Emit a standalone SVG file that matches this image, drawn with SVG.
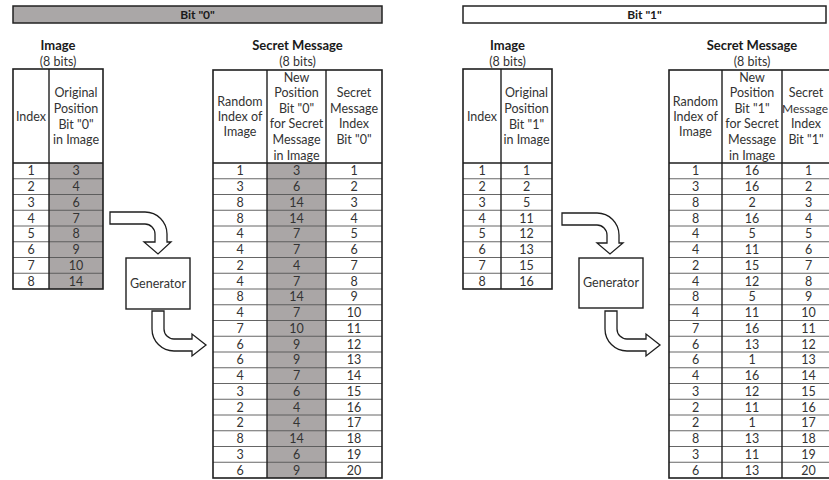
<svg xmlns="http://www.w3.org/2000/svg" width="829" height="480" viewBox="0 0 829 480">
<style>
text{font-family:Lato,"Liberation Sans",sans-serif;fill:#333;text-anchor:middle}
.t{font-size:13px;font-weight:bold;fill:#1a1a1a}
.s{font-size:12.5px}
.h{font-size:12.5px}
.c{font-size:12.5px;dominant-baseline:central}
.bar{stroke:#222;stroke-width:1.5}
.outer{fill:none;stroke:#1e1e1e;stroke-width:1.6}
.col{stroke:#1e1e1e;stroke-width:1.4}
.row{stroke:#555;stroke-width:0.9}
.shade{fill:#aaa6a6}
.gen{fill:#fff;stroke:#1e1e1e;stroke-width:1.4}
.arrow{fill:#fff;stroke:#1e1e1e;stroke-width:1.3;stroke-linejoin:miter}
</style>

<g id="bar0">
<rect class="bar" x="13" y="6" width="369" height="17" fill="#aaa7a7"/>
<text class="t" x="197.5" y="19" style="font-size:12px">Bit "0"</text>
</g>
<g id="bar1">
<rect class="bar" x="463" y="6" width="363" height="17" fill="#fff"/>
<text class="t" x="644.5" y="19" style="font-size:12px">Bit "1"</text>
</g>

<!-- Left image table -->
<g id="image0">
<text class="t" x="58" y="50">Image</text>
<text class="s" x="58" y="66">(8 bits)</text>
<rect class="shade" x="49" y="163" width="54" height="126"/>
<g class="row">
<line x1="13" y1="178.75" x2="103" y2="178.75"/><line x1="13" y1="194.5" x2="103" y2="194.5"/>
<line x1="13" y1="210.25" x2="103" y2="210.25"/><line x1="13" y1="226" x2="103" y2="226"/>
<line x1="13" y1="241.75" x2="103" y2="241.75"/><line x1="13" y1="257.5" x2="103" y2="257.5"/>
<line x1="13" y1="273.25" x2="103" y2="273.25"/>
</g>
<line class="col" x1="49" y1="69" x2="49" y2="289"/>
<line class="col" x1="13" y1="163" x2="103" y2="163"/>
<rect class="outer" x="13" y="69" width="90" height="220"/>
<text class="h" x="31" y="121">Index</text>
<text class="h" x="76" y="97">Original</text>
<text class="h" x="76" y="113">Position</text>
<text class="h" x="76" y="128.5">Bit "0"</text>
<text class="h" x="76" y="144">in Image</text>
<g class="c">
<text x="31" y="170.9">1</text><text x="76" y="170.9">3</text>
<text x="31" y="186.6">2</text><text x="76" y="186.6">4</text>
<text x="31" y="202.4">3</text><text x="76" y="202.4">6</text>
<text x="31" y="218.1">4</text><text x="76" y="218.1">7</text>
<text x="31" y="233.9">5</text><text x="76" y="233.9">8</text>
<text x="31" y="249.6">6</text><text x="76" y="249.6">9</text>
<text x="31" y="265.4">7</text><text x="76" y="265.4">10</text>
<text x="31" y="281.1">8</text><text x="76" y="281.1">14</text>
</g>
</g>

<!-- Left secret table -->
<g id="secret0">
<text class="t" x="297.5" y="50">Secret Message</text>
<text class="s" x="297.5" y="66">(8 bits)</text>
<rect class="shade" x="267" y="163" width="59" height="315"/>
<g class="row">
<line x1="213" y1="178.75" x2="382" y2="178.75"/><line x1="213" y1="194.5" x2="382" y2="194.5"/>
<line x1="213" y1="210.25" x2="382" y2="210.25"/><line x1="213" y1="226" x2="382" y2="226"/>
<line x1="213" y1="241.75" x2="382" y2="241.75"/><line x1="213" y1="257.5" x2="382" y2="257.5"/>
<line x1="213" y1="273.25" x2="382" y2="273.25"/><line x1="213" y1="289" x2="382" y2="289"/>
<line x1="213" y1="304.75" x2="382" y2="304.75"/><line x1="213" y1="320.5" x2="382" y2="320.5"/>
<line x1="213" y1="336.25" x2="382" y2="336.25"/><line x1="213" y1="352" x2="382" y2="352"/>
<line x1="213" y1="367.75" x2="382" y2="367.75"/><line x1="213" y1="383.5" x2="382" y2="383.5"/>
<line x1="213" y1="399.25" x2="382" y2="399.25"/><line x1="213" y1="415" x2="382" y2="415"/>
<line x1="213" y1="430.75" x2="382" y2="430.75"/><line x1="213" y1="446.5" x2="382" y2="446.5"/>
<line x1="213" y1="462.25" x2="382" y2="462.25"/>
</g>
<line class="col" x1="267" y1="70" x2="267" y2="478"/>
<line class="col" x1="326" y1="70" x2="326" y2="478"/>
<line class="col" x1="213" y1="163" x2="382" y2="163"/>
<rect class="outer" x="213" y="70" width="169" height="408"/>
<text class="h" x="240" y="106">Random</text>
<text class="h" x="240" y="121">Index of</text>
<text class="h" x="240" y="136">Image</text>
<text class="h" x="296.5" y="82">New</text>
<text class="h" x="296.5" y="97">Position</text>
<text class="h" x="296.5" y="112.5">Bit "0"</text>
<text class="h" x="296.5" y="128">for Secret</text>
<text class="h" x="296.5" y="144">Message</text>
<text class="h" x="296.5" y="160">in Image</text>
<text class="h" x="354" y="97">Secret</text>
<text class="h" x="354" y="113">Message</text>
<text class="h" x="354" y="128">Index</text>
<text class="h" x="354" y="144">Bit "0"</text>
<g class="c">
<text x="240" y="170.9">1</text><text x="296.5" y="170.9">3</text><text x="354" y="170.9">1</text>
<text x="240" y="186.6">3</text><text x="296.5" y="186.6">6</text><text x="354" y="186.6">2</text>
<text x="240" y="202.4">8</text><text x="296.5" y="202.4">14</text><text x="354" y="202.4">3</text>
<text x="240" y="218.1">8</text><text x="296.5" y="218.1">14</text><text x="354" y="218.1">4</text>
<text x="240" y="233.9">4</text><text x="296.5" y="233.9">7</text><text x="354" y="233.9">5</text>
<text x="240" y="249.6">4</text><text x="296.5" y="249.6">7</text><text x="354" y="249.6">6</text>
<text x="240" y="265.4">2</text><text x="296.5" y="265.4">4</text><text x="354" y="265.4">7</text>
<text x="240" y="281.1">4</text><text x="296.5" y="281.1">7</text><text x="354" y="281.1">8</text>
<text x="240" y="296.9">8</text><text x="296.5" y="296.9">14</text><text x="354" y="296.9">9</text>
<text x="240" y="312.6">4</text><text x="296.5" y="312.6">7</text><text x="354" y="312.6">10</text>
<text x="240" y="328.4">7</text><text x="296.5" y="328.4">10</text><text x="354" y="328.4">11</text>
<text x="240" y="344.1">6</text><text x="296.5" y="344.1">9</text><text x="354" y="344.1">12</text>
<text x="240" y="359.9">6</text><text x="296.5" y="359.9">9</text><text x="354" y="359.9">13</text>
<text x="240" y="375.6">4</text><text x="296.5" y="375.6">7</text><text x="354" y="375.6">14</text>
<text x="240" y="391.4">3</text><text x="296.5" y="391.4">6</text><text x="354" y="391.4">15</text>
<text x="240" y="407.1">2</text><text x="296.5" y="407.1">4</text><text x="354" y="407.1">16</text>
<text x="240" y="422.9">2</text><text x="296.5" y="422.9">4</text><text x="354" y="422.9">17</text>
<text x="240" y="438.6">8</text><text x="296.5" y="438.6">14</text><text x="354" y="438.6">18</text>
<text x="240" y="454.4">3</text><text x="296.5" y="454.4">6</text><text x="354" y="454.4">19</text>
<text x="240" y="470.1">6</text><text x="296.5" y="470.1">9</text><text x="354" y="470.1">20</text>
</g>
</g>

<g id="generator0">
<rect class="gen" x="126" y="258" width="64" height="51"/>
<text class="h" x="158" y="287.5">Generator</text>
</g>

<!-- Right image table -->
<g id="image1">
<text class="t" x="507.5" y="50">Image</text>
<text class="s" x="507.5" y="66">(8 bits)</text>
<g class="row">
<line x1="463" y1="178.75" x2="552" y2="178.75"/><line x1="463" y1="194.5" x2="552" y2="194.5"/>
<line x1="463" y1="210.25" x2="552" y2="210.25"/><line x1="463" y1="226" x2="552" y2="226"/>
<line x1="463" y1="241.75" x2="552" y2="241.75"/><line x1="463" y1="257.5" x2="552" y2="257.5"/>
<line x1="463" y1="273.25" x2="552" y2="273.25"/>
</g>
<line class="col" x1="501" y1="69" x2="501" y2="289"/>
<line class="col" x1="463" y1="163" x2="552" y2="163"/>
<rect class="outer" x="463" y="69" width="89" height="220"/>
<text class="h" x="482" y="121">Index</text>
<text class="h" x="526.5" y="97">Original</text>
<text class="h" x="526.5" y="113">Position</text>
<text class="h" x="526.5" y="128.5">Bit "1"</text>
<text class="h" x="526.5" y="144">in Image</text>
<g class="c">
<text x="482" y="170.9">1</text><text x="526.5" y="170.9">1</text>
<text x="482" y="186.6">2</text><text x="526.5" y="186.6">2</text>
<text x="482" y="202.4">3</text><text x="526.5" y="202.4">5</text>
<text x="482" y="218.1">4</text><text x="526.5" y="218.1">11</text>
<text x="482" y="233.9">5</text><text x="526.5" y="233.9">12</text>
<text x="482" y="249.6">6</text><text x="526.5" y="249.6">13</text>
<text x="482" y="265.4">7</text><text x="526.5" y="265.4">15</text>
<text x="482" y="281.1">8</text><text x="526.5" y="281.1">16</text>
</g>
</g>

<!-- Right secret table -->
<g id="secret1">
<text class="t" x="752" y="50">Secret Message</text>
<text class="s" x="752" y="66">(8 bits)</text>
<g class="row">
<line x1="669" y1="178.75" x2="835" y2="178.75"/><line x1="669" y1="194.5" x2="835" y2="194.5"/>
<line x1="669" y1="210.25" x2="835" y2="210.25"/><line x1="669" y1="226" x2="835" y2="226"/>
<line x1="669" y1="241.75" x2="835" y2="241.75"/><line x1="669" y1="257.5" x2="835" y2="257.5"/>
<line x1="669" y1="273.25" x2="835" y2="273.25"/><line x1="669" y1="289" x2="835" y2="289"/>
<line x1="669" y1="304.75" x2="835" y2="304.75"/><line x1="669" y1="320.5" x2="835" y2="320.5"/>
<line x1="669" y1="336.25" x2="835" y2="336.25"/><line x1="669" y1="352" x2="835" y2="352"/>
<line x1="669" y1="367.75" x2="835" y2="367.75"/><line x1="669" y1="383.5" x2="835" y2="383.5"/>
<line x1="669" y1="399.25" x2="835" y2="399.25"/><line x1="669" y1="415" x2="835" y2="415"/>
<line x1="669" y1="430.75" x2="835" y2="430.75"/><line x1="669" y1="446.5" x2="835" y2="446.5"/>
<line x1="669" y1="462.25" x2="835" y2="462.25"/>
</g>
<line class="col" x1="722" y1="70" x2="722" y2="478"/>
<line class="col" x1="782" y1="70" x2="782" y2="478"/>
<line class="col" x1="669" y1="163" x2="835" y2="163"/>
<rect class="outer" x="669" y="70" width="166" height="408"/>
<text class="h" x="695.5" y="106">Random</text>
<text class="h" x="695.5" y="121">Index of</text>
<text class="h" x="695.5" y="136">Image</text>
<text class="h" x="752" y="82">New</text>
<text class="h" x="752" y="97">Position</text>
<text class="h" x="752" y="112.5">Bit "1"</text>
<text class="h" x="752" y="128">for Secret</text>
<text class="h" x="752" y="144">Message</text>
<text class="h" x="752" y="160">in Image</text>
<text class="h" x="806" y="97">Secret</text>
<text class="h" x="805" y="113" style="font-size:12px">Message</text>
<text class="h" x="806" y="128">Index</text>
<text class="h" x="806" y="144">Bit "1"</text>
<g class="c">
<text x="695.5" y="170.9">1</text><text x="752" y="170.9">16</text><text x="808.5" y="170.9">1</text>
<text x="695.5" y="186.6">3</text><text x="752" y="186.6">16</text><text x="808.5" y="186.6">2</text>
<text x="695.5" y="202.4">8</text><text x="752" y="202.4">2</text><text x="808.5" y="202.4">3</text>
<text x="695.5" y="218.1">8</text><text x="752" y="218.1">16</text><text x="808.5" y="218.1">4</text>
<text x="695.5" y="233.9">4</text><text x="752" y="233.9">5</text><text x="808.5" y="233.9">5</text>
<text x="695.5" y="249.6">4</text><text x="752" y="249.6">11</text><text x="808.5" y="249.6">6</text>
<text x="695.5" y="265.4">2</text><text x="752" y="265.4">15</text><text x="808.5" y="265.4">7</text>
<text x="695.5" y="281.1">4</text><text x="752" y="281.1">12</text><text x="808.5" y="281.1">8</text>
<text x="695.5" y="296.9">8</text><text x="752" y="296.9">5</text><text x="808.5" y="296.9">9</text>
<text x="695.5" y="312.6">4</text><text x="752" y="312.6">11</text><text x="808.5" y="312.6">10</text>
<text x="695.5" y="328.4">7</text><text x="752" y="328.4">16</text><text x="808.5" y="328.4">11</text>
<text x="695.5" y="344.1">6</text><text x="752" y="344.1">13</text><text x="808.5" y="344.1">12</text>
<text x="695.5" y="359.9">6</text><text x="752" y="359.9">1</text><text x="808.5" y="359.9">13</text>
<text x="695.5" y="375.6">4</text><text x="752" y="375.6">16</text><text x="808.5" y="375.6">14</text>
<text x="695.5" y="391.4">3</text><text x="752" y="391.4">12</text><text x="808.5" y="391.4">15</text>
<text x="695.5" y="407.1">2</text><text x="752" y="407.1">11</text><text x="808.5" y="407.1">16</text>
<text x="695.5" y="422.9">2</text><text x="752" y="422.9">1</text><text x="808.5" y="422.9">17</text>
<text x="695.5" y="438.6">8</text><text x="752" y="438.6">13</text><text x="808.5" y="438.6">18</text>
<text x="695.5" y="454.4">3</text><text x="752" y="454.4">11</text><text x="808.5" y="454.4">19</text>
<text x="695.5" y="470.1">6</text><text x="752" y="470.1">13</text><text x="808.5" y="470.1">20</text>
</g>
</g>

<g id="generator1">
<rect class="gen" x="579" y="258" width="64" height="50"/>
<text class="h" x="611" y="287">Generator</text>
</g>

<g id="connectors">
<path class="arrow" d="M110,212 H145 A22,22 0 0 1 167,234 V242 H171 L158,254 L144,242 H155 V234 A10,10 0 0 0 145,224 H110 Z"/>
<path class="arrow" d="M152,311 V329 A22,22 0 0 0 174,351 H192 V356 L206,345 L192,334 V339 H174 A10,10 0 0 1 164,329 V311 Z"/>
<path class="arrow" d="M562,213 H597 A22,22 0 0 1 619,235 V243 H623 L610,254 L597,243 H607 V235 A10,10 0 0 0 597,225 H562 Z"/>
<path class="arrow" d="M605,311 V329 A22,22 0 0 0 627,351 H646 V356 L660,345 L646,334 V339 H627 A10,10 0 0 1 617,329 V311 Z"/>
</g>
</svg>
